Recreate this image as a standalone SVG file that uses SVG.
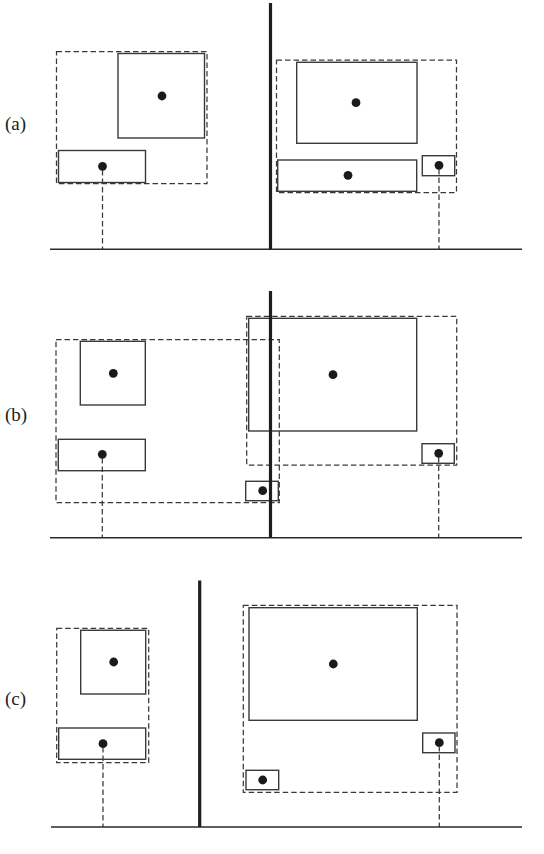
<svg xmlns="http://www.w3.org/2000/svg" width="544" height="854" viewBox="0 0 544 854">
<style>
.bg{fill:#fff}
.grp{fill:none;stroke:#3a3a3a;stroke-width:1.25;stroke-dasharray:5.5,3}
.box{fill:none;stroke:#3a3a3a;stroke-width:1.4}
.dot{fill:#1a1a1a}
.drop{fill:none;stroke:#3a3a3a;stroke-width:1.25;stroke-dasharray:5.5,3}
.base{stroke:#2a2a2a;stroke-width:1.4}
.wall{stroke:#1e1e1e;stroke-width:3.2}
.lbl{font-family:"Liberation Serif",serif;font-size:19px;fill:#222}
</style>
<rect class="bg" x="0" y="0" width="544" height="854"/>

<g id="panel-a">
  <text class="lbl" x="5" y="130">(a)</text>
  <g id="a-group-left"><rect class="grp" x="56.5" y="51.5" width="150.5" height="132"/></g>
  <g id="a-group-right"><rect class="grp" x="276.5" y="60" width="180" height="132.5"/></g>
  <g id="a-sq"><rect class="box" x="118" y="53.5" width="86.5" height="84.5"/><circle class="dot" cx="162" cy="96" r="4.4"/></g>
  <g id="a-bar"><rect class="box" x="58.5" y="150.5" width="87" height="32"/><circle class="dot" cx="102.5" cy="166.3" r="4.4"/></g>
  <g id="a-big"><rect class="box" x="296.7" y="62.3" width="120.3" height="81"/><circle class="dot" cx="356" cy="102.7" r="4.4"/></g>
  <g id="a-long"><rect class="box" x="277.7" y="160" width="139" height="31.3"/><circle class="dot" cx="348" cy="175.3" r="4.4"/></g>
  <g id="a-small"><rect class="box" x="422.3" y="155.7" width="32.4" height="20"/><circle class="dot" cx="439" cy="165.3" r="4.4"/></g>
</g>

<g id="panel-b">
  <text class="lbl" x="5" y="421">(b)</text>
  <g id="b-group-left"><rect class="grp" x="56" y="339.7" width="223.3" height="163"/></g>
  <g id="b-group-right"><rect class="grp" x="246.7" y="316.3" width="210" height="148.7"/></g>
  <g id="b-sq"><rect class="box" x="80.3" y="341.3" width="65" height="63.7"/><circle class="dot" cx="113.3" cy="373.3" r="4.4"/></g>
  <g id="b-bar"><rect class="box" x="58.3" y="439.3" width="87" height="31.4"/><circle class="dot" cx="102.3" cy="454.3" r="4.4"/></g>
  <g id="b-big"><rect class="box" x="248.7" y="318.3" width="168" height="112.7"/><circle class="dot" cx="333" cy="374.7" r="4.4"/></g>
  <g id="b-small-right"><rect class="box" x="422" y="443.7" width="32.3" height="19.6"/><circle class="dot" cx="438.7" cy="453.3" r="4.4"/></g>
  <g id="b-small-left"><rect class="box" x="245.7" y="481.3" width="32.6" height="19.4"/><circle class="dot" cx="262.7" cy="490.7" r="4.4"/></g>
</g>

<g id="panel-c">
  <text class="lbl" x="5" y="705">(c)</text>
  <g id="c-group-left"><rect class="grp" x="56.7" y="628.3" width="92" height="134.4"/></g>
  <g id="c-group-right"><rect class="grp" x="243.3" y="605.3" width="213.7" height="187"/></g>
  <g id="c-sq"><rect class="box" x="80.7" y="630.3" width="65" height="63.7"/><circle class="dot" cx="113.7" cy="662" r="4.4"/></g>
  <g id="c-bar"><rect class="box" x="58.7" y="728" width="87" height="31.3"/><circle class="dot" cx="103" cy="743.7" r="4.4"/></g>
  <g id="c-big"><rect class="box" x="249" y="607.7" width="168.3" height="112.6"/><circle class="dot" cx="333.3" cy="664" r="4.4"/></g>
  <g id="c-small-right"><rect class="box" x="422.7" y="733" width="32.3" height="19.7"/><circle class="dot" cx="439.3" cy="742.7" r="4.4"/></g>
  <g id="c-small-left"><rect class="box" x="246" y="770.3" width="32.7" height="19.4"/><circle class="dot" cx="262.7" cy="780" r="4.4"/></g>
</g>

<g id="connectors">
  <line class="drop" x1="102.5" y1="170" x2="102.5" y2="249"/>
  <line class="drop" x1="439" y1="169" x2="439" y2="249"/>
  <line class="drop" x1="102.3" y1="458" x2="102.3" y2="538"/>
  <line class="drop" x1="438.7" y1="457" x2="438.7" y2="538"/>
  <line class="drop" x1="103" y1="747" x2="103" y2="827"/>
  <line class="drop" x1="439.3" y1="746" x2="439.3" y2="827"/>
  <line class="base" x1="50" y1="249.3" x2="522" y2="249.3"/>
  <line class="base" x1="50" y1="537.7" x2="522" y2="537.7"/>
  <line class="base" x1="51" y1="827" x2="522" y2="827"/>
  <line class="wall" x1="270.5" y1="3" x2="270.5" y2="249.3"/>
  <line class="wall" x1="270.5" y1="291" x2="270.5" y2="537.7"/>
  <line class="wall" x1="199.7" y1="580.5" x2="199.7" y2="827"/>
</g>
</svg>
